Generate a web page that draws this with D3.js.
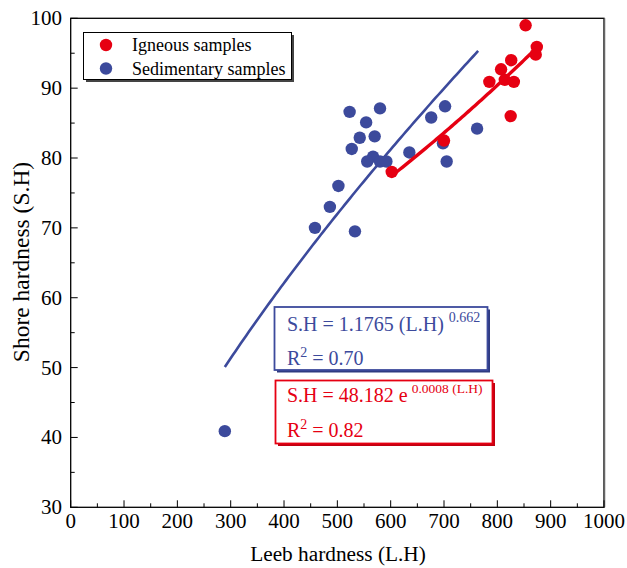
<!DOCTYPE html>
<html><head><meta charset="utf-8">
<script src="https://cdn.jsdelivr.net/npm/d3@7"></script>
<style>
html,body{margin:0;padding:0;background:#fff;}
svg text{font-family:"Liberation Serif","Times New Roman",serif;}
</style></head>
<body>
<svg id="c" width="627" height="568"></svg>
<script>
// ---- data ----
const igneousX = [853, 874, 872, 826, 807, 785, 814, 831, 825, 700, 602];
const igneousY = [99.0, 95.9, 94.8, 94.0, 92.7, 90.9, 91.2, 90.9, 86.0, 82.5, 78.0];
const sedimentaryX = [289, 458, 486, 502, 533, 523, 527, 542, 554, 580, 570, 567, 556, 580, 592, 635, 676, 702, 698, 705, 762];
const sedimentaryY = [40.9, 70.0, 73.0, 76.0, 69.5, 86.6, 81.3, 82.9, 85.1, 87.1, 83.1, 80.2, 79.5, 79.5, 79.5, 80.8, 85.8, 87.4, 82.1, 79.5, 84.2];
const xTicks = [0,100,200,300,400,500,600,700,800,900,1000];
const yTicks = [30,40,50,60,70,80,90,100];
const powerFit = [1.1765, 0.662];   // S.H = a * L.H^b (as printed)
const expFit = [48.182, 0.0008];    // S.H = a * e^(k L.H) (as printed)
const seriesNames = ["Igneous samples", "Sedimentary samples"];

const RED = "#e60012", BLUE = "#3c4a9c";
const svg = d3.select("#c");
const x = d3.scaleLinear().domain([0,1000]).range([70.7,604]);
const y = d3.scaleLinear().domain([30,100]).range([507.3,18.3]);

// frame
svg.append("rect").attr("x",70.7).attr("y",18.3).attr("width",604-70.7).attr("height",507.3-18.3)
  .attr("fill","none").attr("stroke","#000").attr("stroke-width",1.3);
svg.append("line").attr("x1",604.5).attr("x2",604.5).attr("y1",18.3).attr("y2",507.3).attr("stroke","#666").attr("stroke-width",1.5);

// x axis ticks (inward)
const xMinor = d3.range(50,1000,100);
const gx = svg.append("g");
gx.selectAll("line.maj").data(xTicks).join("line").attr("x1",d=>x(d)).attr("x2",d=>x(d))
  .attr("y1",y(30)).attr("y2",y(30)-7).attr("stroke","#000").attr("stroke-width",1);
gx.selectAll("line.min").data(xMinor).join("line").attr("x1",d=>x(d)).attr("x2",d=>x(d))
  .attr("y1",y(30)).attr("y2",y(30)-4).attr("stroke","#000").attr("stroke-width",1);
gx.selectAll("text").data(xTicks).join("text").attr("x",d=>x(d)).attr("y",528)
  .attr("text-anchor","middle").attr("font-size",21).text(d=>d);

const yMinor = d3.range(35,100,10);
const gy = svg.append("g");
gy.selectAll("line.maj").data(yTicks).join("line").attr("x1",x(0)).attr("x2",x(0)+7)
  .attr("y1",d=>y(d)).attr("y2",d=>y(d)).attr("stroke","#000").attr("stroke-width",1);
gy.selectAll("line.min").data(yMinor).join("line").attr("x1",x(0)).attr("x2",x(0)+4)
  .attr("y1",d=>y(d)).attr("y2",d=>y(d)).attr("stroke","#000").attr("stroke-width",1);
gy.selectAll("text").data(yTicks).join("text").attr("x",62).attr("y",d=>y(d)+7)
  .attr("text-anchor","end").attr("font-size",21).text(d=>d);

// axis titles
svg.append("text").attr("x",338).attr("y",561).attr("text-anchor","middle").attr("font-size",21.3).text("Leeb hardness (L.H)");
svg.append("text").attr("transform","translate(29,262) rotate(-90)").attr("text-anchor","middle").attr("font-size",23.5).text("Shore hardness (S.H)");

// fit lines
const line = d3.line().x(d=>x(d[0])).y(d=>y(d[1]));
// sedimentary: printed power law
const sedMin = d3.min(sedimentaryX), sedMax = 765;
const bluePts = d3.range(sedMin, sedMax+0.1, 5).map(v=>[v, powerFit[0]*Math.pow(v,powerFit[1])]);
// igneous: exponential least-squares fit of the igneous points (log-linear)
const lx = igneousX, ly = igneousY.map(Math.log);
const mx = d3.mean(lx), my = d3.mean(ly);
const kk = d3.sum(lx.map((v,i)=>(v-mx)*(ly[i]-my))) / d3.sum(lx.map(v=>(v-mx)*(v-mx)));
const aa = Math.exp(my - kk*mx);
const ignMin = d3.min(igneousX), ignMax = d3.max(igneousX);
const redPts = d3.range(ignMin, ignMax+0.1, 4).map(v=>[v, aa*Math.exp(kk*v)]);

svg.append("path").attr("d",line(bluePts)).attr("fill","none").attr("stroke",BLUE).attr("stroke-width",2.6);

// points
svg.append("g").selectAll("circle").data(d3.zip(sedimentaryX,sedimentaryY)).join("circle")
  .attr("cx",d=>x(d[0])).attr("cy",d=>y(d[1])).attr("r",6.2).attr("fill",BLUE);
svg.append("path").attr("d",line(redPts)).attr("fill","none").attr("stroke",RED).attr("stroke-width",3.4);
svg.append("g").selectAll("circle").data(d3.zip(igneousX,igneousY)).join("circle")
  .attr("cx",d=>x(d[0])).attr("cy",d=>y(d[1])).attr("r",6.2).attr("fill",RED);

// legend
const lg = svg.append("g");
lg.append("rect").attr("x",86).attr("y",35).attr("width",208).attr("height",47).attr("fill","#444");
lg.append("rect").attr("x",83.5).attr("y",32.5).attr("width",208).attr("height",47).attr("fill","#fff").attr("stroke","#000").attr("stroke-width",1);
[RED,BLUE].forEach((c,i)=>{
  lg.append("circle").attr("cx",106).attr("cy",45+i*23.5).attr("r",6.2).attr("fill",c);
  lg.append("text").attr("x",132).attr("y",51+i*23.5).attr("font-size",18).text(seriesNames[i]);
});

// equation boxes
function box(x0,y0,w,h,col,shadow){
  svg.append("rect").attr("x",x0+2.5).attr("y",y0+2.5).attr("width",w).attr("height",h).attr("fill",shadow);
  svg.append("rect").attr("x",x0).attr("y",y0).attr("width",w).attr("height",h).attr("fill","#fff").attr("stroke",col).attr("stroke-width",1.8);
}
box(274.5,307,213,63,BLUE,"#2e3a80");
box(275.5,380.5,217,63,RED,"#c00010");

const t1 = svg.append("text").attr("x",287).attr("y",331).attr("font-size",20).attr("fill",BLUE);
t1.append("tspan").text("S.H = " + powerFit[0] + " (L.H)");
t1.append("tspan").attr("dx",5).attr("dy",-9).attr("font-size",14).text(powerFit[1]);
const t2 = svg.append("text").attr("x",287).attr("y",365).attr("font-size",20).attr("fill",BLUE);
t2.append("tspan").text("R");
t2.append("tspan").attr("dy",-8).attr("font-size",14).text("2");
t2.append("tspan").attr("dy",8).text(" = 0.70");

const t3 = svg.append("text").attr("x",287).attr("y",402).attr("font-size",20).attr("fill",RED);
t3.append("tspan").text("S.H = " + expFit[0] + " e");
t3.append("tspan").attr("dx",4).attr("dy",-9).attr("font-size",13.5).text(expFit[1] + " (L.H)");
const t4 = svg.append("text").attr("x",287).attr("y",437).attr("font-size",20).attr("fill",RED);
t4.append("tspan").text("R");
t4.append("tspan").attr("dy",-8).attr("font-size",14).text("2");
t4.append("tspan").attr("dy",8).text(" = 0.82");
</script>
</body></html>
